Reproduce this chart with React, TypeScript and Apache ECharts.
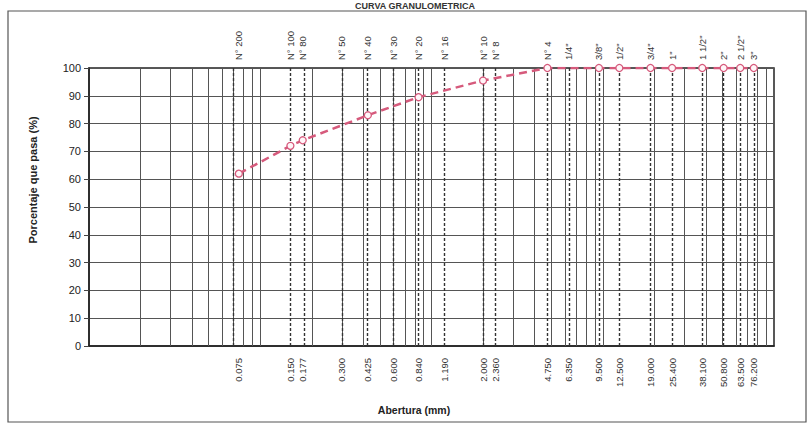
import React, { useEffect, useRef } from "react";
import * as echarts from "echarts";

const sieveSizes = [0.075, 0.15, 0.177, 0.3, 0.425, 0.6, 0.84, 1.19, 2.0, 2.36, 4.75, 6.35, 9.5, 12.5, 19.0, 25.4, 38.1, 50.8, 63.5, 76.2];
const sieveNames = ["N° 200", "N° 100", "N° 80", "N° 50", "N° 40", "N° 30", "N° 20", "N° 16", "N° 10", "N° 8", "N° 4", '1/4"', '3/8"', '1/2"', '3/4"', '1"', '1 1/2"', '2"', '2 1/2"', '3"'];
const sizeLabels = ["0.075", "0.150", "0.177", "0.300", "0.425", "0.600", "0.840", "1.190", "2.000", "2.360", "4.750", "6.350", "9.500", "12.500", "19.000", "25.400", "38.100", "50.800", "63.500", "76.200"];

const curveSizes = [0.075, 0.15, 0.177, 0.425, 0.84, 2.0, 4.75, 9.5, 12.5, 19.0, 25.4, 38.1, 50.8, 63.5, 76.2];
const curvePassing = [62, 72, 74, 83, 89.5, 95.5, 100, 100, 100, 100, 100, 100, 100, 100, 100];

const logGridValues = [
  0.02, 0.03, 0.04, 0.05, 0.06, 0.07, 0.08, 0.09, 0.1,
  0.2, 0.3, 0.4, 0.5, 0.6, 0.7, 0.8, 0.9, 1,
  2, 3, 4, 5, 6, 7, 8, 9, 10,
  20, 30, 40, 50, 60, 70, 80, 90,
];

const FONT = "'Liberation Sans', Arial, sans-serif";
const CURVE_COLOR = "#d65a7c";

export default function App() {
  const ref = useRef<HTMLDivElement>(null);

  useEffect(() => {
    if (!ref.current) return;
    const chart = echarts.init(ref.current, undefined, { renderer: "svg" });
    const option: any = {
      animation: false,
      backgroundColor: "#ffffff",
      textStyle: { fontFamily: FONT },
      grid: {
        left: 89,
        top: 68,
        width: 685,
        height: 278,
        show: true,
        borderColor: "#222",
        borderWidth: 1.5,
        containLabel: false,
      },
      xAxis: {
        type: "log",
        logBase: 10,
        min: 0.01,
        max: 100,
        axisLine: { show: true, lineStyle: { color: "#222", width: 1.5 } },
        axisTick: { show: false },
        axisLabel: { show: false },
        splitLine: { show: false },
        minorTick: { show: false },
      },
      yAxis: {
        type: "value",
        min: 0,
        max: 100,
        interval: 10,
        axisLine: { show: true, lineStyle: { color: "#222", width: 1.5 } },
        axisTick: { show: true, length: 5, lineStyle: { color: "#444" } },
        axisLabel: { fontSize: 11, color: "#222", margin: 8, fontFamily: FONT },
        splitLine: { show: true, lineStyle: { color: "#555", width: 1 } },
      },
      graphic: [
        {
          type: "rect",
          shape: { x: 8, y: 11, width: 798, height: 411 },
          style: { fill: "none", stroke: "#555", lineWidth: 1.2 },
          silent: true,
        },
        {
          type: "text",
          x: 415,
          y: 1,
          style: {
            text: "CURVA GRANULOMETRICA",
            fontSize: 9,
            fontWeight: "bold",
            fill: "#333",
            align: "center",
            verticalAlign: "top",
            fontFamily: FONT,
          },
        },
        {
          type: "text",
          x: 33,
          y: 180,
          rotation: Math.PI / 2,
          style: {
            text: "Porcentaje que pasa (%)",
            fontSize: 11,
            fontWeight: "bold",
            fill: "#222",
            align: "center",
            verticalAlign: "middle",
            fontFamily: FONT,
          },
        },
        {
          type: "text",
          x: 414,
          y: 410,
          style: {
            text: "Abertura (mm)",
            fontSize: 10.5,
            fontWeight: "bold",
            fill: "#222",
            align: "center",
            verticalAlign: "middle",
            fontFamily: FONT,
          },
        },
      ],
      series: [
        {
          type: "line",
          name: "grid-log",
          data: [],
          silent: true,
          markLine: {
            silent: true,
            symbol: "none",
            label: { show: false },
            lineStyle: { type: "solid", color: "#555", width: 1 },
            data: logGridValues.map((v) => ({ xAxis: v })),
          },
        },
        {
          type: "line",
          name: "sieves",
          data: [],
          silent: true,
          markLine: {
            silent: true,
            symbol: "none",
            label: { show: false },
            lineStyle: { type: [3, 2], color: "#333", width: 1.4 },
            data: sieveSizes.map((v) => ({ xAxis: v })),
          },
        },
        {
          type: "custom",
          name: "labels",
          silent: true,
          clip: false,
          data: sieveSizes.map((s, i) => [s, i]),
          renderItem: (params: any, api: any) => {
            const x = api.value(0);
            const idx = api.value(1);
            const top = api.coord([x, 100]);
            const bot = api.coord([x, 0]);
            return {
              type: "group",
              children: [
                {
                  type: "text",
                  x: top[0],
                  y: top[1] - 8,
                  rotation: Math.PI / 2,
                  style: {
                    text: sieveNames[idx],
                    fontSize: 9.5,
                    fill: "#333",
                    align: "left",
                    verticalAlign: "middle",
                    fontFamily: FONT,
                  },
                },
                {
                  type: "text",
                  x: bot[0],
                  y: bot[1] + 12,
                  rotation: Math.PI / 2,
                  style: {
                    text: sizeLabels[idx],
                    fontSize: 9.5,
                    fill: "#333",
                    align: "right",
                    verticalAlign: "middle",
                    fontFamily: FONT,
                  },
                },
              ],
            };
          },
        },
        {
          type: "line",
          name: "Curva",
          data: curveSizes.map((s, i) => [s, curvePassing[i]]),
          symbol: "circle",
          symbolSize: 7,
          lineStyle: { color: CURVE_COLOR, width: 2.5, type: [8, 5] },
          itemStyle: { color: "#fff5f8", borderColor: CURVE_COLOR, borderWidth: 1.3 },
          z: 10,
        },
      ],
    };
    chart.setOption(option);
    return () => chart.dispose();
  }, []);

  return (
    <div
      ref={ref}
      style={{ position: "absolute", left: 0, top: 0, width: 811, height: 439 }}
    />
  );
}
